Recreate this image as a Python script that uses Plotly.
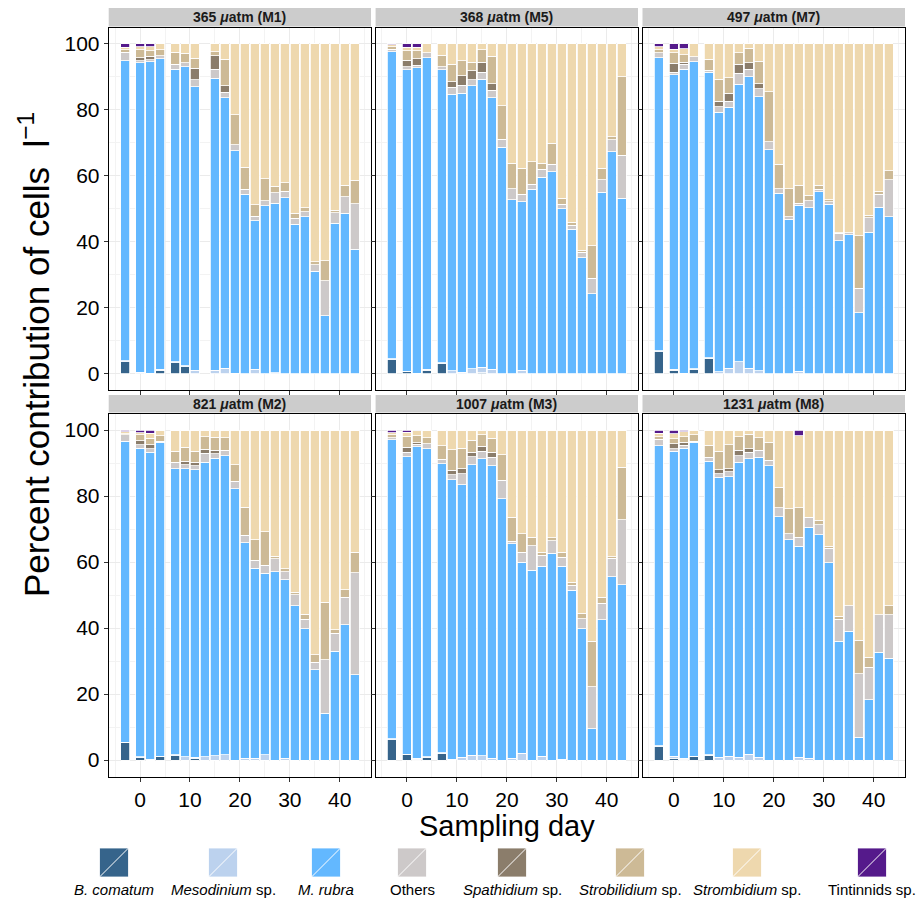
import plotly.graph_objects as go

W, H = 916, 901

days = [-3, 0, 2, 4, 7, 9, 11, 13, 15, 17, 19, 21, 23, 25, 27, 29, 31, 33, 35, 37, 39, 41, 43]

species = ["B. comatum", "Mesodinium sp.", "M. rubra", "Others",
           "Spathidium sp.", "Strobilidium sp.", "Strombidium sp.", "Tintinnids sp."]
species_labels = ["<i>B. comatum</i>", "<i>Mesodinium</i> sp.", "<i>M. rubra</i>", "Others",
                  "<i>Spathidium</i> sp.", "<i>Strobilidium</i> sp.", "<i>Strombidium</i> sp.", "Tintinnids sp."]
colors = ["#36648b", "#bcd2ee", "#63b8ff", "#cdc9c9", "#8b7d6b", "#cdba96", "#eed8ae", "#551a8b"]

panel_titles = ["365 <i>μ</i>atm (M1)", "368 <i>μ</i>atm (M5)", "497 <i>μ</i>atm (M7)",
                "821 <i>μ</i>atm (M2)", "1007 <i>μ</i>atm (M3)", "1231 <i>μ</i>atm (M8)"]

# ---- M1 (365 uatm) : day 13 not sampled ----
M1_bcom = [3.6, 0, 0, 1.1, 3.3, 2.1, 0, None, 0, 0, 0, 0, 0, 0, 0, 0, 0, 0, 0, 0, 0, 0, 0]
M1_meso = [0.3, 0.5, 0.2, 0.2, 0.3, 0.3, 1.0, None, 1.0, 1.6, 0.2, 0, 1.3, 0, 0.3, 0, 0, 0, 0, 0, 0, 0, 0]
M1_mrub = [91.0, 93.8, 94.4, 94.2, 88.7, 90.7, 86.1, None, 88.6, 82.1, 67.4, 54.5, 45.1, 51.0, 51.4, 53.4, 45.3, 47.6, 31.1, 17.6, 45.6, 48.6, 37.8]
M1_oth = [2.4, 0.6, 0.6, 1.0, 1.6, 1.2, 2.0, None, 2.7, 1.7, 1.8, 1.4, 1.4, 1.5, 3.2, 2.0, 1.8, 1.5, 1.9, 10.6, 3.2, 5.1, 13.7]
M1_spat = [0.2, 0.9, 1.1, 0, 0, 0, 3.5, None, 4.1, 1.9, 0, 0, 0, 0, 0, 0, 0, 0, 0, 0, 0, 0, 0]
M1_stbl = [0.8, 2.4, 1.7, 1.7, 3.6, 2.9, 3.0, None, 1.3, 8.0, 9.1, 6.7, 3.4, 6.7, 2.0, 2.5, 1.5, 1.3, 0.9, 6.0, 0.8, 3.5, 7.2]
M1_stmb = [0.7, 1.0, 1.2, 1.8, 2.5, 2.8, 4.4, None, 2.3, 4.7, 21.5, 37.4, 48.8, 40.8, 43.1, 42.1, 51.4, 49.6, 66.1, 65.8, 50.4, 42.8, 41.3]
M1_tint = [1.0, 0.8, 0.8, 0, 0, 0, 0, None, 0, 0, 0, 0, 0, 0, 0, 0, 0, 0, 0, 0, 0, 0, 0]

# ---- M5 (368 uatm) ----
M5_bcom = [4.3, 0.6, 0, 1.1, 3.1, 0, 0, 0, 0.3, 0, 0, 0, 0, 0, 0, 0, 0, 0, 0, 0, 0, 0, 0]
M5_meso = [0.2, 0.2, 0.2, 0.2, 0.2, 0.9, 0.5, 1.5, 1.6, 1.4, 0, 0, 1.1, 0, 0, 0, 0, 0, 0, 0, 0, 0, 0]
M5_mrub = [93.2, 91.4, 92.6, 94.6, 88.9, 83.9, 84.5, 85.9, 87.4, 82.3, 68.7, 52.7, 51.1, 55.9, 59.6, 61.3, 50.1, 43.8, 35.2, 24.3, 55.0, 67.3, 53.2]
M5_oth = [0.7, 0.9, 0.8, 1.5, 0.9, 2.1, 2.5, 1.8, 2.1, 2.3, 2.4, 3.4, 2.3, 1.6, 2.4, 2.3, 1.3, 1.3, 1.7, 4.6, 3.9, 3.6, 13.1]
M5_spat = [0, 2.0, 1.9, 0, 0, 1.7, 2.9, 2.7, 3.0, 2.0, 0, 0, 0, 0, 0, 0, 0, 0, 0, 0, 0, 0, 0]
M5_stbl = [0.8, 2.9, 2.5, 0, 3.5, 5.2, 4.5, 2.6, 3.9, 8.3, 10.1, 7.7, 7.8, 6.8, 1.8, 6.3, 1.8, 0.8, 0.6, 9.9, 3.4, 1.0, 23.8]
M5_stmb = [0.5, 1.0, 1.0, 2.6, 3.4, 6.2, 5.1, 5.5, 1.7, 3.7, 18.8, 36.2, 37.7, 35.7, 36.2, 30.1, 46.8, 54.1, 62.5, 61.2, 37.7, 28.1, 9.9]
M5_tint = [0.3, 1.0, 1.0, 0, 0, 0, 0, 0, 0, 0, 0, 0, 0, 0, 0, 0, 0, 0, 0, 0, 0, 0, 0]

# ---- M7 (497 uatm) ----
M7_bcom = [6.7, 1.1, 0, 1.3, 4.7, 0, 0, 0, 0, 0, 0, 0, 0, 0, 0, 0, 0, 0, 0, 0, 0, 0, 0]
M7_meso = [0.2, 0.2, 0.2, 0.2, 0.2, 0.6, 1.6, 3.6, 1.6, 0.9, 0, 0, 0, 0.8, 0, 0, 0, 0, 0, 0, 0, 0, 0]
M7_mrub = [88.9, 89.3, 92.1, 93.1, 86.5, 78.7, 79.2, 84.2, 88.5, 83.1, 68.0, 54.7, 46.9, 50.3, 50.4, 55.2, 51.4, 40.3, 42.1, 18.5, 42.9, 50.5, 47.6]
M7_oth = [1.6, 0.9, 1.6, 1.5, 0.7, 1.7, 1.9, 3.3, 2.2, 2.4, 2.4, 1.4, 0.7, 0.6, 2.1, 0.7, 0.8, 2.3, 0.7, 7.4, 4.4, 4.0, 11.3]
M7_spat = [0, 2.6, 0.5, 0, 0, 1.7, 2.3, 2.8, 2.0, 1.5, 0, 0, 0, 0, 0, 0, 0, 0, 0, 0, 0, 0, 0]
M7_stbl = [0.9, 3.3, 2.3, 0, 3.2, 6.6, 4.8, 3.5, 4.4, 6.9, 15.1, 7.5, 8.5, 5.5, 1.7, 1.2, 0.5, 0.2, 0, 16.0, 0.8, 0.9, 2.7]
M7_stmb = [0.8, 1.0, 1.9, 3.9, 4.7, 10.7, 10.2, 2.6, 1.3, 5.2, 14.5, 36.4, 43.9, 42.8, 45.8, 42.9, 47.3, 57.2, 57.2, 58.1, 51.9, 44.6, 38.4]
M7_tint = [0.9, 1.6, 1.4, 0, 0, 0, 0, 0, 0, 0, 0, 0, 0, 0, 0, 0, 0, 0, 0, 0, 0, 0, 0]

# ---- M2 (821 uatm) ----
M2_bcom = [5.2, 0.8, 0, 1.0, 1.3, 0, 0.6, 0, 0, 0, 0, 0, 0, 0, 0, 0, 0, 0, 0, 0, 0, 0, 0]
M2_meso = [0.2, 0.2, 0.2, 0.2, 0.3, 1.0, 0.3, 1.0, 1.3, 1.6, 0, 0.5, 0.5, 1.6, 0, 0.5, 0, 0, 0, 0, 0, 0, 0]
M2_mrub = [91.2, 93.5, 93.0, 95.1, 86.7, 87.2, 87.0, 89.2, 90.2, 90.6, 82.2, 65.4, 57.6, 55.0, 57.1, 54.1, 46.8, 39.8, 27.4, 14.2, 32.9, 41.0, 25.9]
M2_oth = [2.0, 1.0, 1.1, 0.3, 1.9, 1.3, 1.3, 2.7, 1.3, 1.6, 2.2, 2.2, 2.4, 2.4, 3.9, 2.4, 3.3, 2.9, 2.2, 16.2, 5.5, 8.3, 30.9]
M2_spat = [0, 1.3, 1.2, 0, 0, 1.0, 1.0, 1.2, 1.1, 0, 0, 0, 0, 0, 0, 0, 0, 0, 0, 0, 0, 0, 0]
M2_stbl = [0.2, 1.7, 2.0, 1.6, 3.3, 4.2, 3.3, 3.8, 3.9, 3.8, 5.1, 8.5, 6.3, 10.1, 0.8, 0.9, 0.8, 1.5, 2.3, 17.4, 1.1, 2.3, 6.1]
M2_stmb = [0.6, 0.7, 1.5, 1.8, 6.5, 5.3, 6.5, 2.1, 2.2, 2.4, 10.5, 23.4, 33.2, 30.9, 38.2, 42.1, 49.1, 55.8, 68.1, 52.2, 60.5, 48.4, 37.1]
M2_tint = [0.6, 0.8, 1.0, 0, 0, 0, 0, 0, 0, 0, 0, 0, 0, 0, 0, 0, 0, 0, 0, 0, 0, 0, 0]

# ---- M3 (1007 uatm) ----
M3_bcom = [6.2, 1.6, 0.3, 0.8, 2.0, 0, 0, 0, 0, 0, 0, 0, 0, 0, 0, 0, 0, 0, 0, 0, 0, 0, 0]
M3_meso = [0.2, 0.2, 0.2, 0.2, 0.2, 0.2, 0.8, 1.4, 1.3, 0.5, 0, 0.5, 2.1, 0, 1.1, 0, 0.3, 0, 0, 0, 0, 0, 0]
M3_mrub = [90.7, 90.1, 94.4, 93.3, 87.6, 84.7, 82.6, 88.1, 90.0, 88.7, 79.2, 65.0, 57.8, 57.5, 57.6, 62.7, 58.4, 51.4, 39.8, 9.5, 42.5, 55.6, 53.1]
M3_oth = [0.5, 1.3, 0.8, 1.5, 1.3, 1.6, 3.3, 2.4, 2.2, 2.5, 5.5, 0.8, 3.0, 7.4, 3.3, 3.7, 2.7, 1.5, 3.0, 12.7, 5.0, 5.5, 19.7]
M3_spat = [0, 1.5, 0.5, 0, 0, 1.3, 1.5, 1.3, 1.6, 1.5, 0, 0, 0, 0, 0, 0, 0, 0, 0, 0, 0, 0, 0]
M3_stbl = [1.0, 3.4, 2.1, 1.9, 4.1, 6.2, 6.3, 3.7, 3.5, 4.3, 7.8, 7.3, 5.7, 2.6, 0.9, 0.9, 1.6, 1.0, 1.6, 13.8, 1.8, 0.5, 15.9]
M3_stmb = [0.6, 1.2, 1.4, 2.3, 4.8, 6.0, 5.5, 3.1, 1.4, 2.5, 7.5, 26.4, 31.4, 32.5, 37.1, 32.7, 37.0, 46.1, 55.6, 64.0, 50.7, 38.4, 11.3]
M3_tint = [0.8, 0.7, 0.3, 0, 0, 0, 0, 0, 0, 0, 0, 0, 0, 0, 0, 0, 0, 0, 0, 0, 0, 0, 0]

# ---- M8 (1231 uatm) ----
M8_bcom = [4.1, 0.6, 0.3, 1.0, 1.4, 0, 0, 0, 0, 0, 0, 0, 0, 0, 0, 0, 0, 0, 0, 0, 0, 0, 0]
M8_meso = [0.2, 0.5, 0.2, 0.2, 0.2, 0.9, 1.1, 0.9, 1.8, 0.9, 0, 0, 0, 0.9, 0.5, 0, 0, 0, 0, 0, 0, 0, 0]
M8_mrub = [90.9, 92.4, 94.0, 95.1, 88.9, 84.8, 84.7, 89.3, 89.5, 90.8, 89.2, 73.7, 66.8, 63.8, 70.0, 68.3, 59.7, 36.0, 39.0, 6.9, 18.3, 32.6, 30.9]
M8_oth = [2.0, 0.8, 0.9, 0.3, 1.3, 1.1, 1.5, 2.0, 1.9, 2.1, 1.6, 2.7, 1.7, 2.8, 3.0, 3.0, 4.4, 6.6, 7.8, 19.3, 9.8, 11.4, 13.1]
M8_spat = [0, 1.5, 0.9, 0, 0, 1.2, 1.0, 1.7, 1.1, 0, 0, 0, 0, 0, 0, 0, 0, 0, 0, 0, 0, 0, 0]
M8_stbl = [0.8, 1.6, 1.6, 1.9, 3.6, 5.5, 7.2, 4.0, 4.4, 3.9, 5.5, 6.2, 7.7, 8.9, 0, 1.3, 0.6, 1.0, 0, 10.1, 3.1, 0, 2.8]
M8_stmb = [1.0, 1.4, 1.6, 1.5, 4.6, 6.5, 4.5, 2.1, 1.3, 2.3, 3.7, 17.4, 23.8, 21.8, 26.5, 27.4, 35.3, 56.4, 53.2, 63.7, 68.8, 56.0, 53.2]
M8_tint = [1.0, 1.2, 0.5, 0, 0, 0, 0, 0, 0, 0, 0, 0, 0, 1.8, 0, 0, 0, 0, 0, 0, 0, 0, 0]

panels = [
    [M1_bcom, M1_meso, M1_mrub, M1_oth, M1_spat, M1_stbl, M1_stmb, M1_tint],
    [M5_bcom, M5_meso, M5_mrub, M5_oth, M5_spat, M5_stbl, M5_stmb, M5_tint],
    [M7_bcom, M7_meso, M7_mrub, M7_oth, M7_spat, M7_stbl, M7_stmb, M7_tint],
    [M2_bcom, M2_meso, M2_mrub, M2_oth, M2_spat, M2_stbl, M2_stmb, M2_tint],
    [M3_bcom, M3_meso, M3_mrub, M3_oth, M3_spat, M3_stbl, M3_stmb, M3_tint],
    [M8_bcom, M8_meso, M8_mrub, M8_oth, M8_spat, M8_stbl, M8_stmb, M8_tint],
]

FONT = "Liberation Sans, Arial, Helvetica, sans-serif"

def px(xp):
    return xp / W

def py(yp):
    return 1 - yp / H

col_px = [(108.7, 371.0), (375.6, 638.0), (642.5, 905.0)]
row_px = [(27.5, 390.2), (413.5, 776.5)]
strip_px = [(8.0, 26.5), (395.0, 412.5)]

fig = go.Figure()
layout = dict(
    width=W, height=H,
    margin=dict(l=0, r=0, t=0, b=0),
    paper_bgcolor="white", plot_bgcolor="white",
    barmode="stack", showlegend=False,
    font=dict(family=FONT, color="black"),
)
shapes = []
annotations = []

for p in range(6):
    r, c = divmod(p, 3)
    idx = "" if p == 0 else str(p + 1)
    xa, ya = "x" + idx, "y" + idx
    for s in range(8):
        fig.add_trace(go.Bar(
            x=days, y=panels[p][s], xaxis=xa, yaxis=ya,
            width=1.8, name=species[s],
            marker=dict(color=colors[s], line=dict(color="white", width=0.8)),
            showlegend=False,
        ))
    x0, x1 = col_px[c]
    y0, y1 = row_px[r]
    layout["xaxis" + idx] = dict(
        domain=[px(x0), px(x1)], anchor=ya, range=[-6.28, 46.25],
        tickvals=[0, 10, 20, 30, 40], showticklabels=(r == 1),
        ticks="outside", ticklen=4, tickwidth=1, tickcolor="#333333",
        tickfont=dict(size=21, color="black"),
        showgrid=True, gridcolor="#ebebeb", gridwidth=1,
        minor=dict(tickvals=[-5, 5, 15, 25, 35, 45], showgrid=True, gridcolor="#f3f3f3", gridwidth=1, ticks=""),
        showline=True, linecolor="black", linewidth=1, mirror=True,
        zeroline=False, fixedrange=True,
    )
    layout["yaxis" + idx] = dict(
        domain=[py(y1), py(y0)], anchor=xa, range=[-5, 105],
        tickvals=[0, 20, 40, 60, 80, 100], showticklabels=(c == 0),
        ticks="outside", ticklen=4, tickwidth=1, tickcolor="#333333",
        tickfont=dict(size=21, color="black"),
        showgrid=True, gridcolor="#ebebeb", gridwidth=1,
        minor=dict(tickvals=[10, 30, 50, 70, 90], showgrid=True, gridcolor="#f3f3f3", gridwidth=1, ticks=""),
        showline=True, linecolor="black", linewidth=1, mirror=True,
        zeroline=False, fixedrange=True,
    )
    # strip
    sy0, sy1 = strip_px[r]
    shapes.append(dict(type="rect", xref="paper", yref="paper",
                       x0=px(x0), x1=px(x1), y0=py(sy1), y1=py(sy0),
                       fillcolor="#cccccc", line=dict(width=0), layer="above"))
    annotations.append(dict(text="<b>" + panel_titles[p] + "</b>", xref="paper", yref="paper",
                            x=px((x0 + x1) / 2), y=py((sy0 + sy1) / 2),
                            xanchor="center", yanchor="middle", showarrow=False,
                            font=dict(size=14, color="#1a1a1a", family=FONT)))

# axis titles
annotations.append(dict(text="Sampling day", xref="paper", yref="paper",
                        x=px(507), y=py(826), xanchor="center", yanchor="middle",
                        showarrow=False, font=dict(size=29, color="black", family=FONT)))
annotations.append(dict(text="Percent contribution of cells  l<sup>−1</sup>", xref="paper", yref="paper",
                        x=px(34), y=py(355), xanchor="center", yanchor="middle", textangle=-90,
                        showarrow=False, font=dict(size=35, color="black", family=FONT)))

# legend (manual, keys above labels)
key_cx = [114, 223, 326, 412, 512, 630, 747, 872]
ks = 29
ky0, ky1 = 848, 877
for s in range(8):
    cx = key_cx[s]
    shapes.append(dict(type="rect", xref="paper", yref="paper",
                       x0=px(cx - ks / 2), x1=px(cx + ks / 2), y0=py(ky1), y1=py(ky0),
                       fillcolor=colors[s], line=dict(color="white", width=0.8)))
    shapes.append(dict(type="line", xref="paper", yref="paper",
                       x0=px(cx - ks / 2), x1=px(cx + ks / 2), y0=py(ky1), y1=py(ky0),
                       line=dict(color="white", width=1)))
    annotations.append(dict(text=species_labels[s], xref="paper", yref="paper",
                            x=px(cx), y=py(889), xanchor="center", yanchor="middle",
                            showarrow=False, font=dict(size=15, color="black", family=FONT)))

layout["shapes"] = shapes
layout["annotations"] = annotations
fig.update_layout(**layout)
fig.write_html("out.html")
